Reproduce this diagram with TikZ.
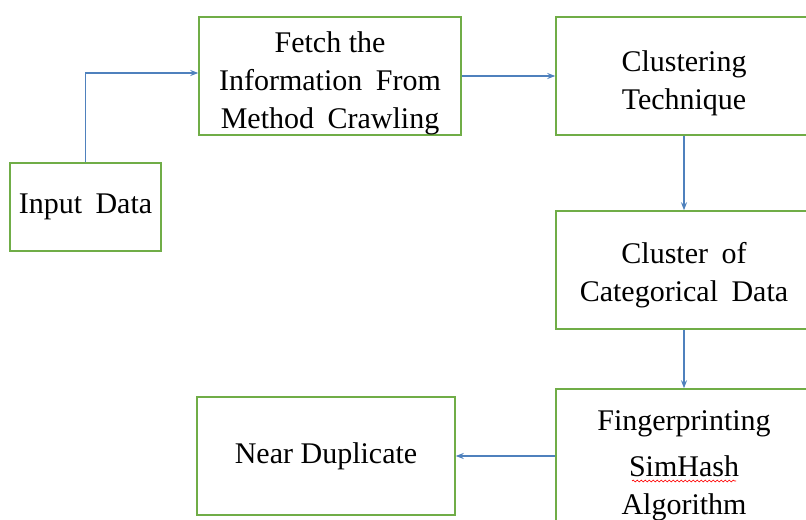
\documentclass[tikz,border=0pt]{standalone}
\usepackage{fontspec}
\setmainfont{Liberation Serif}
\usetikzlibrary{arrows.meta}
\usetikzlibrary{calc}
\usetikzlibrary{decorations.pathmorphing}
\definecolor{boxgreen}{RGB}{112,173,71}
\definecolor{arrowblue}{RGB}{79,129,189}
\newcommand{\wgap}{\hspace{0.45em}}

\begin{document}
\begin{tikzpicture}[x=0.75pt,y=-0.75pt,
        block/.style={draw=boxgreen, line width=1.1pt, align=center, inner sep=0pt,
            font=\fontsize{22.5}{28.5}\selectfont},
        flow/.style={draw=arrowblue, line width=1pt, -{Stealth[length=6pt,width=4.5pt]}}]
            \clip (0,0) rectangle (806,520);
            \node [block, minimum width=113.25pt, minimum height=66pt] (input) at (85.5,207) {Input\wgap Data};
            \node [block, minimum width=196.5pt, minimum height=88.5pt] (fetch) at (330,76) {\rule{0pt}{26pt}Fetch the\\Information\wgap From\\Method\wgap Crawling};
            \node [block, minimum width=192pt, minimum height=88.5pt] (clust) at (684,76) {\rule{0pt}{26pt}Clustering\\Technique};
            \node [block, minimum width=192pt, minimum height=88.5pt] (categ) at (684,270) {\rule{0pt}{24pt}Cluster\wgap of\\Categorical\wgap Data};
            \node [block, minimum width=192pt, minimum height=106.5pt] (finger) at (684,460) {\rule{0pt}{24pt}Fingerprinting\\[6pt]SimHash\\Algorithm};
            \node [block, minimum width=193.5pt, minimum height=88.5pt] (near) at (326,456) {Near Duplicate};
            \draw [red, line width=0.5pt, decorate, decoration={snake, amplitude=0.7pt, segment length=3pt}]
            ($(finger.center)+(-52,21)$) -- ($(finger.center)+(52,21)$);
            \draw [flow] (input.north) |- ($(fetch.west)+(0,-3)$);
            \draw [flow] (fetch) -- (clust);
            \draw [flow] (clust) -- (categ);
            \draw [flow] (categ) -- (finger);
            \draw [flow] (finger.west |- near.east) -- (near.east);
        \end{tikzpicture}
\end{document}
